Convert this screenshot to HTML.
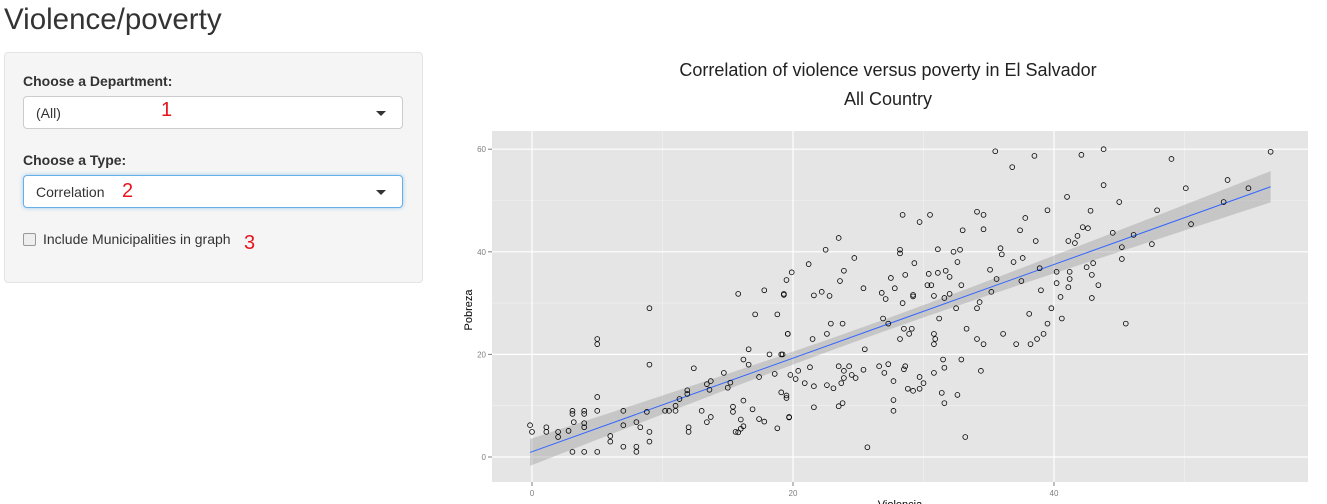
<!DOCTYPE html>
<html><head><meta charset="utf-8">
<style>
body{margin:0;width:1327px;height:504px;overflow:hidden;background:#fff;font-family:"Liberation Sans",sans-serif;color:#333;position:relative}
.abs{position:absolute}
h1{position:absolute;left:4px;top:3px;margin:0;font-weight:normal;font-size:29.5px;color:#333}
.well{left:4px;top:52px;width:417px;height:229px;background:#f5f5f5;border:1px solid #e3e3e3;border-radius:4px}
.lbl{font-weight:bold;font-size:14px;left:23px}
.sel{left:23px;width:380px;height:33px;background:#fff;border:1px solid #ccc;border-radius:4px;font-size:14px;line-height:33px;box-sizing:border-box;padding-left:12px}
.sel .car{position:absolute;right:16px;top:14px;width:0;height:0;border-left:5px solid transparent;border-right:5px solid transparent;border-top:5px solid #333}
.red{color:#e8141e;font-size:20px}
</style></head><body>
<h1>Violence/poverty</h1>
<div class="abs well"></div>
<div class="abs lbl" style="top:73px">Choose a Department:</div>
<div class="abs sel" style="top:96px">(All)<span class="car"></span></div>
<div class="abs lbl" style="top:152px">Choose a Type:</div>
<div class="abs sel" style="top:175px;border-color:#66afe9;box-shadow:0 0 4px rgba(102,175,233,.6)">Correlation<span class="car"></span></div>
<div class="abs" style="left:23px;top:233px;width:11px;height:11px;border:1px solid #999;border-radius:2px;background:#eee"></div>
<div class="abs" style="left:43px;top:231px;font-size:14px">Include Municipalities in graph</div>
<div class="abs red" style="left:161px;top:99px">1</div>
<div class="abs red" style="left:122px;top:180px">2</div>
<div class="abs red" style="left:244px;top:232px">3</div>
<div class="abs red" style="left:666px;top:225px">4</div>
<svg class="abs" style="left:0;top:0" width="1327" height="504" id="chart"></svg>
<script>
const violencia=[-0.15,0,1.1,1.1,2,2,2.8,3.1,3.1,3.2,3.1,4,4,4,4,4,5,5,5,5,5,6,6,7,7,7,8,8.3,8,8,9,9,8.8,9,9,10.2,10.5,11,11,11.3,11.9,11.9,12,12,12.4,13,13.4,13.7,13.4,13.7,13.6,14.7,15,15.2,15.4,15.4,15.6,15.8,16,16.2,16,16.2,15.8,16.2,16.6,16.6,16.9,17.4,17.4,17.8,17.8,17.1,18.2,18.6,18.8,18.8,19.1,19.1,19.5,19.3,19.6,19.7,
35.5,36.8,38.5,39.5,37.8,38.6,37.4,34.1,34.6,34.6,33,30.5,28.4,29.7,23.5,22.5,21.2,19.9,19.5,19.3,21.6,22.2,22.8,23.6,23.9,24.7,25.4,28.2,28.2,29.3,31.1,32.3,32.8,32.6,28.6,27.5,27.8,26.8,27.1,28.4,29.2,29.2,30.4,30.3,30.6,31.1,31.7,32,30.8,31.6,32,32.9,32.5,31.2,35.1,35.6,35.9,36,36.9,37.6,38.9,37.5,39,35.2,34.3,34.1,38.1,39.8,39.5,39.2,38.7,38.2,37.1,36.1,34.6,34.1,33.3,30.8,30.9,30.8,26.9,27.3,19.6,21.5,22.6,22.9,23.8,25.5,19.2,28.2,28.9,29.1,28.5,31.5,32.9,31.6,30.8,34.4,30,29.7,29.7,29.2,28.8,28.6,28.5,27.7,27.7,27.7,27.3,27,26.6,25.4,24.8,24.5,24.3,23.9,23.9,23.5,23.7,23.1,22.6,21.6,20.9,20.4,20.2,19.8,21.3,21.6,23.5,23.8,19.5,19.7,31.4,31.6,32.6,33.2,25.7,
43.8,42.1,49,56.6,43.8,41,53.3,50.1,54.9,53,45,42.8,47.9,50.5,42.2,42.6,41.8,41.1,41.6,44.5,46.1,47.5,45.2,45.2,43,42.5,40.2,41.2,41.2,42.9,40.2,41.1,43.4,40.5,42.9,40.6,45.5];
const pobreza=[6.2,4.9,5.8,4.9,4.9,3.9,5.1,9,8.4,6.8,1,9,8.4,6.6,5.8,1,23,22,11.7,9,1,4.1,3,9,6.2,2,6.8,5.8,2,1,29,18,8.8,4.9,3,9,9,10,9,11.3,13,12.3,5.8,4.9,17.3,9,6.8,7.8,14.2,14.8,13.1,16.4,13.5,14.5,8.8,9.8,4.9,4.8,5.5,6,7.3,11,31.8,19,21,18,9.3,15.6,7.4,6.9,32.5,27.8,20,16.2,27.8,5.6,20,12.6,12,31.6,24,7.7,
59.6,56.5,58.7,48.1,46.6,42.1,44.2,47.8,47.2,44.4,44.2,47.2,47.2,45.8,42.7,40.4,37.6,36,34.5,31.8,31.5,32.2,31.4,34.3,36.3,38.8,32.9,40.4,39.7,37.8,40.5,40,40.4,38,35.5,34.9,32.9,32,30.8,30,31.6,31.3,35.7,33.5,33.5,35.9,36.3,35.1,31.4,31,31.8,33.5,29,27,36.5,34.7,40.7,39.5,38,38.8,36.8,34.3,32.5,32.2,30.2,29,27.9,29,26,24,23,22,22,24,22,23,25,24,23,22,27,26,24,23,24,26,26,21,20,23,24,25,25,19,19,17.4,16.4,16.8,14.4,13.3,15.6,12.9,13.3,17.7,17.1,14.8,11.1,9,18.1,16.4,17.7,17,15.4,16,17.7,16.8,15.4,17.7,14.4,13.4,14,13.8,14.4,16.8,15.2,16,17.5,9.7,9.9,10.5,11.5,7.8,12.5,10.5,12.1,3.9,1.9,
60,58.9,58.1,59.5,53,50.7,54,52.4,52.4,49.7,49.7,48,48.1,45.4,44.8,44.6,43.1,42.1,41.7,43.7,43.3,41.5,40.9,38.6,37.8,37,36.1,36.1,34.7,35.5,33.9,33.1,33.5,31.2,31,27,26];
const xTicks=[0,20,40], yTicks=[0,20,40,60], xMinor=[10,30,50], yMinor=[10,30,50];
const NS='http://www.w3.org/2000/svg', svg=document.getElementById('chart');
const L=492,R=1308,T=131,B=482;
const sx=v=>532+v*13.05, sy=p=>457-p*5.13;
function mk(t,a,parent){const e=document.createElementNS(NS,t);for(const k in a)e.setAttribute(k,a[k]);(parent||svg).appendChild(e);return e;}
let e=mk('rect',{x:L,y:T,width:R-L,height:B-T,fill:'#e5e5e5'});


xMinor.forEach(v=>{const g=mk('line',{x1:sx(v),x2:sx(v),y1:T,y2:B,stroke:'#f2f2f2','stroke-width':0.6});});
yMinor.forEach(v=>{const g=mk('line',{x1:L,x2:R,y1:sy(v),y2:sy(v),stroke:'#f2f2f2','stroke-width':0.6});});
xTicks.forEach(v=>{const g=mk('line',{x1:sx(v),x2:sx(v),y1:T,y2:B,stroke:'#fff','stroke-width':1.2});
 const k=mk('line',{x1:sx(v),x2:sx(v),y1:B,y2:B+4,stroke:'#7f7f7f'});
 const t=mk('text',{x:sx(v),y:B+14,'text-anchor':'middle','font-size':8,fill:'#7f7f7f'});t.textContent=v;});
yTicks.forEach(v=>{const g=mk('line',{x1:L,x2:R,y1:sy(v),y2:sy(v),stroke:'#fff','stroke-width':1.2});
 const k=mk('line',{x1:L-4,x2:L,y1:sy(v),y2:sy(v),stroke:'#7f7f7f'});
 const t=mk('text',{x:L-6,y:sy(v)+3,'text-anchor':'end','font-size':8,fill:'#7f7f7f'});t.textContent=v;});
const n=violencia.length;let mx=0,my=0;for(let i=0;i<n;i++){mx+=violencia[i];my+=pobreza[i];}mx/=n;my/=n;
let sxx=0,sxy=0;for(let i=0;i<n;i++){sxx+=(violencia[i]-mx)**2;sxy+=(violencia[i]-mx)*(pobreza[i]-my);}
const b=sxy/sxx,a=my-b*mx;let sse=0;for(let i=0;i<n;i++)sse+=(pobreza[i]-a-b*violencia[i])**2;
const s=Math.sqrt(sse/(n-2));const x0=Math.min(...violencia),x1=Math.max(...violencia);
const up=[],lo=[];for(let k=0;k<=80;k++){const x=x0+(x1-x0)*k/80;const se=1.97*s*Math.sqrt(1/n+(x-mx)**2/sxx);const y=a+b*x;up.push(sx(x)+','+sy(y+se));lo.unshift(sx(x)+','+sy(y-se));}
e=mk('polygon',{points:up.concat(lo).join(' '),fill:'#999','fill-opacity':0.4});


e=mk('line',{x1:sx(x0),y1:sy(a+b*x0),x2:sx(x1),y2:sy(a+b*x1),stroke:'#3366ff','stroke-width':1});


for(let i=0;i<n;i++){const c=mk('circle',{cx:sx(violencia[i]),cy:sy(pobreza[i]),r:2.4,fill:'none',stroke:'#000','stroke-width':0.8});

}
e=mk('text',{x:888,y:76,'text-anchor':'middle','font-size':18,fill:'#222'});e.textContent='Correlation of violence versus poverty in El Salvador';


e=mk('text',{x:888,y:105,'text-anchor':'middle','font-size':18,fill:'#222'});e.textContent='All Country';


e=mk('text',{x:0,y:0,'text-anchor':'middle','font-size':11,fill:'#000',transform:'translate(472,310) rotate(-90)'});e.textContent='Pobreza';


e=mk('text',{x:900,y:508,'text-anchor':'middle','font-size':11,fill:'#000'});e.textContent='Violencia';


</script>
</body></html>
